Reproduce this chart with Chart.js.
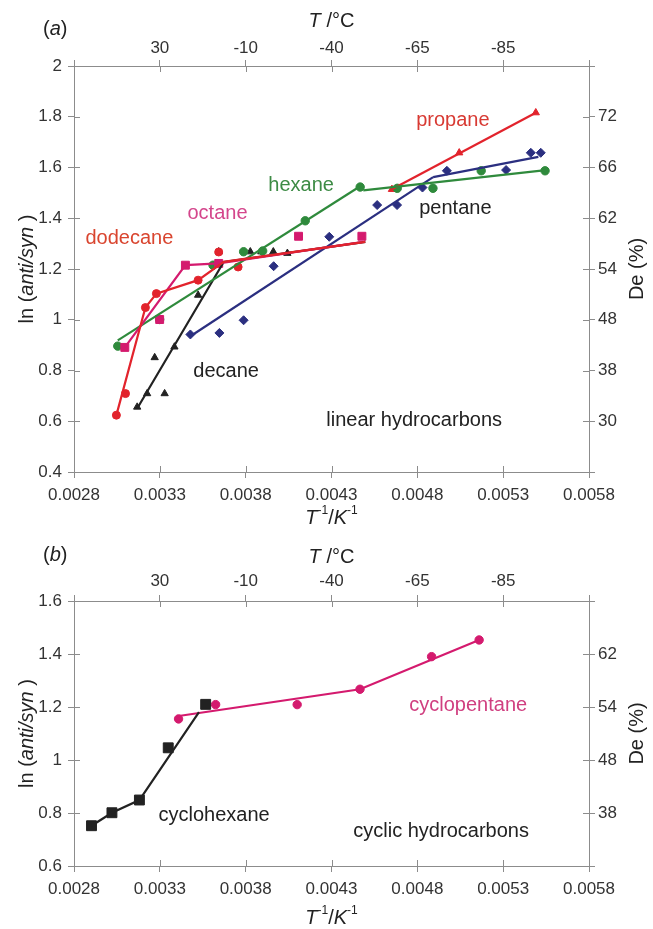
<!DOCTYPE html>
<html><head><meta charset="utf-8">
<script src="https://cdn.jsdelivr.net/npm/chart.js@4.4.0/dist/chart.umd.min.js"></script>
<style>
html,body{margin:0;padding:0;background:#fff;}
#wrap{position:relative;width:653px;height:929px;}
canvas{display:block;}
</style></head><body>
<div id="wrap">
<canvas id="ca" width="653" height="535"></canvas>
<canvas id="cb" width="653" height="394"></canvas>
</div>
<script>
// ---------- axis ticks ----------
const xTickVals = [0.0028, 0.0033, 0.0038, 0.0043, 0.0048, 0.0053, 0.0058];
const xTickLabels = ['0.0028', '0.0033', '0.0038', '0.0043', '0.0048', '0.0053', '0.0058'];
const topTickLabels = ['', '30', '-10', '-40', '-65', '-85', ''];
const yTickValsA = [0.4, 0.6, 0.8, 1.0, 1.2, 1.4, 1.6, 1.8, 2.0];
const yTickLabelsA = ['0.4', '0.6', '0.8', '1', '1.2', '1.4', '1.6', '1.8', '2'];
const deLabelsA = ['', '30', '38', '48', '54', '62', '66', '72', ''];
const yTickValsB = [0.6, 0.8, 1.0, 1.2, 1.4, 1.6];
const yTickLabelsB = ['0.6', '0.8', '1', '1.2', '1.4', '1.6'];
const deLabelsB = ['', '38', '48', '54', '62', ''];

// ---------- panel (a): linear hydrocarbons ----------
const propanePts = [[0.004652,1.514],[0.005044,1.658],[0.00549,1.816]];
const propaneFit = [[0.004652,1.514],[0.00549,1.816]];

const hexanePts = [[0.003055,0.896],[0.003299,1.001],[0.00361,1.215],[0.003788,1.268],[0.003899,1.271],[0.004147,1.390],[0.004467,1.523],[0.004683,1.518],[0.004891,1.518],[0.005172,1.587],[0.005544,1.587]];
const hexaneFit1 = [[0.003055,0.919],[0.004467,1.526]];
const hexaneFit2 = [[0.004485,1.51],[0.005548,1.59]];

const pentanePts = [[0.003478,0.942],[0.003647,0.948],[0.003788,0.998],[0.003963,1.211],[0.004287,1.327],[0.004566,1.452],[0.004682,1.452],[0.00483,1.521],[0.004972,1.587],[0.005317,1.590],[0.005461,1.658],[0.005519,1.658]];
const pentaneFit1 = [[0.003478,0.935],[0.004892,1.562]];
const pentaneFit2 = [[0.004892,1.562],[0.005505,1.642]];

const dodecanePts = [[0.003047,0.624],[0.0031,0.709],[0.003216,1.048],[0.00328,1.103],[0.003523,1.156],[0.003643,1.267],[0.003756,1.208]];
const dodecaneFit = [[0.003047,0.624],[0.003216,1.048],[0.00328,1.103],[0.003523,1.156],[0.003672,1.228],[0.004497,1.307]];

const octanePts = [[0.003096,0.891],[0.003299,1.001],[0.003449,1.215],[0.003643,1.222],[0.004108,1.329],[0.004477,1.329]];
const octaneFit = [[0.003096,0.891],[0.003449,1.215],[0.003643,1.222],[0.004477,1.306]];

const decanePts = [[0.003168,0.656],[0.003226,0.709],[0.00327,0.851],[0.003328,0.709],[0.003385,0.893],[0.003523,1.097],[0.003643,1.268],[0.003827,1.268],[0.003891,1.268],[0.003961,1.268],[0.004043,1.262]];
const decaneFit = [[0.003168,0.65],[0.003672,1.228],[0.004497,1.307]];

// ---------- panel (b): cyclic hydrocarbons ----------
const cyclohexanePts = [[0.002902,0.752],[0.003021,0.801],[0.003181,0.849],[0.003349,1.046],[0.003567,1.210]];
const cyclohexaneFit = [[0.002902,0.752],[0.003021,0.801],[0.003181,0.849],[0.003528,1.181]];
const cyclopentanePts = [[0.003409,1.155],[0.003625,1.209],[0.0041,1.209],[0.004466,1.267],[0.004883,1.390],[0.00516,1.453]];
const cyclopentaneFit = [[0.0034,1.165],[0.004466,1.267],[0.00516,1.453]];

// ---------- colours / fonts ----------
const RED = '#e2232c', MAG = '#d41a6e', GRN = '#2f8a3c', NAVY = '#2b2f80', BLK = '#222222';
const FONT = "'Liberation Sans', Arial, Helvetica, sans-serif";
const AXIS = '#8c8c8c', TXT = '#333333';

const toXY = a => a.map(p => ({x: p[0], y: p[1]}));
function lineDS(arr, color){
  return {data: toXY(arr), showLine: true, borderColor: color, borderWidth: 2.2, pointRadius: 0, fill: false};
}
function ptDS(arr, color, style, r){
  return {data: toXY(arr), showLine: false, pointStyle: style, pointRadius: r, backgroundColor: color, borderColor: color, borderWidth: 1};
}

function drawRich(ctx, segs, x, y, rot, size, color, align){
  ctx.save();
  ctx.translate(x, y); ctx.rotate(rot);
  ctx.fillStyle = color; ctx.textBaseline = 'middle'; ctx.textAlign = 'left';
  const fonts = segs.map(s => (s.it ? 'italic ' : '') + (s.sup ? Math.round(size*0.62) : size) + 'px ' + FONT);
  let w = 0;
  segs.forEach((s,i) => { ctx.font = fonts[i]; w += ctx.measureText(s.t).width; });
  let cx = align === 'left' ? 0 : -w/2;
  segs.forEach((s,i) => { ctx.font = fonts[i]; ctx.fillText(s.t, cx, s.sup ? -size*0.36 : 0); cx += ctx.measureText(s.t).width; });
  ctx.restore();
}

const decor = {
  id: 'decor',
  afterDraw(chart, args, o){
    const ctx = chart.ctx, ca = chart.chartArea;
    const sx = chart.scales.x, sy = chart.scales.y;
    ctx.save();
    ctx.strokeStyle = AXIS; ctx.lineWidth = 1;
    ctx.beginPath();
    xTickVals.forEach(v => {
      const p = Math.round(sx.getPixelForValue(v)) + 0.5;
      ctx.moveTo(p, ca.bottom); ctx.lineTo(p, ca.bottom - 6);
      ctx.moveTo(p, ca.top); ctx.lineTo(p, ca.top + 6);
    });
    o.yVals.forEach(v => {
      const p = Math.round(sy.getPixelForValue(v)) + 0.5;
      ctx.moveTo(ca.left, p); ctx.lineTo(ca.left + 6, p);
      ctx.moveTo(ca.right, p); ctx.lineTo(ca.right - 6, p);
    });
    ctx.stroke();
    ctx.restore();
    const midX = (ca.left + ca.right) / 2, midY = (ca.top + ca.bottom) / 2;
    drawRich(ctx, [{t:'('},{t:o.letter, it:true},{t:')'}], 43, o.letterY, 0, 20, '#222', 'left');
    drawRich(ctx, [{t:'T', it:true},{t:' /°C'}], midX, o.topTitleY, 0, 20, '#222');
    drawRich(ctx, [{t:'T', it:true},{t:'-1', sup:true},{t:'/'},{t:'K', it:true},{t:'-1', sup:true}], midX, o.botTitleY, 0, 20, '#222');
    drawRich(ctx, [{t:'ln ('},{t:'anti/syn', it:true},{t:' )'}], 27, midY, -Math.PI/2, 20, '#222');
    drawRich(ctx, [{t:'De (%)'}], 637, midY, -Math.PI/2, 20, '#222');
    o.labels.forEach(l => {
      const px = sx.getPixelForValue(l.x), py = sy.getPixelForValue(l.y);
      drawRich(ctx, [{t:l.text}], px, py, 0, 20, l.color, 'left');
    });
  }
};

function xScale(pos, labels, h, pad){
  return {
    type: 'linear', position: pos, min: 0.0028, max: 0.0058,
    afterBuildTicks: s => { s.ticks = xTickVals.map(v => ({value: v})); },
    afterFit: s => { s.height = h; },
    ticks: {callback: (v, i) => labels[i], font: {family: FONT, size: 17}, color: TXT, padding: pad, maxRotation: 0, autoSkip: false},
    grid: {drawOnChartArea: false, tickLength: 6, color: AXIS},
    border: {color: AXIS}
  };
}
function yScale(pos, vals, labels, min, max, w, pad){
  return {
    type: 'linear', position: pos, min: min, max: max,
    afterBuildTicks: s => { s.ticks = vals.map(v => ({value: v})); },
    afterFit: s => { s.width = w; },
    ticks: {callback: (v, i) => labels[i], font: {family: FONT, size: 17}, color: TXT, padding: pad, autoSkip: false},
    grid: {drawOnChartArea: false, tickLength: 6, color: AXIS},
    border: {color: AXIS}
  };
}

function makeChart(id, datasets, yVals, yLabels, deLabels, ymin, ymax, decorOpts, topPad, botPad){
  return new Chart(document.getElementById(id), {
    type: 'scatter',
    data: {datasets: datasets},
    options: {
      responsive: false, animation: false,
      layout: {padding: 0},
      plugins: {legend: {display: false}, tooltip: {enabled: false}, decor: decorOpts},
      scales: {
        x: xScale('bottom', xTickLabels, 63, botPad),
        x2: xScale('top', topTickLabels, 66, topPad),
        y: yScale('left', yVals, yLabels, ymin, ymax, 74, 6),
        y2: yScale('right', yVals, deLabels, ymin, ymax, 64, 3)
      }
    },
    plugins: [decor]
  });
}

makeChart('ca', [
  lineDS(dodecaneFit, RED),
  lineDS(octaneFit, MAG),
  lineDS(hexaneFit1, GRN), lineDS(hexaneFit2, GRN),
  lineDS(pentaneFit1, NAVY), lineDS(pentaneFit2, NAVY),
  lineDS(propaneFit, RED),
  lineDS(decaneFit, BLK),
  ptDS(dodecanePts, RED, 'circle', 4),
  ptDS(octanePts, MAG, 'rect', 5.6),
  ptDS(hexanePts, GRN, 'circle', 4.2),
  ptDS(pentanePts, NAVY, 'rectRot', 4.5),
  ptDS(propanePts, RED, 'triangle', 4.2),
  ptDS(decanePts, BLK, 'triangle', 4.2)
], yTickValsA, yTickLabelsA, deLabelsA, 0.4, 2.0, {
  letter: 'a', letterY: 29, topTitleY: 21, botTitleY: 518, yVals: yTickValsA,
  labels: [
    {text: 'propane', x: 0.004793, y: 1.787, color: '#d83a33'},
    {text: 'hexane', x: 0.003932, y: 1.531, color: '#3d8b45'},
    {text: 'octane', x: 0.003461, y: 1.420, color: '#d4468c'},
    {text: 'dodecane', x: 0.002867, y: 1.321, color: '#d9452f'},
    {text: 'pentane', x: 0.004811, y: 1.440, color: '#222'},
    {text: 'decane', x: 0.003495, y: 0.797, color: '#222'},
    {text: 'linear hydrocarbons', x: 0.00427, y: 0.604, color: '#222'}
  ]
}, 1, 7);

makeChart('cb', [
  lineDS(cyclohexaneFit, BLK),
  lineDS(cyclopentaneFit, MAG),
  ptDS(cyclohexanePts, BLK, 'rect', 7),
  ptDS(cyclopentanePts, MAG, 'circle', 4.2)
], yTickValsB, yTickLabelsB, deLabelsB, 0.6, 1.6, {
  letter: 'b', letterY: 20, topTitleY: 22, botTitleY: 383, yVals: yTickValsB,
  labels: [
    {text: 'cyclopentane', x: 0.004753, y: 1.204, color: '#d03f80'},
    {text: 'cyclohexane', x: 0.003292, y: 0.792, color: '#222'},
    {text: 'cyclic hydrocarbons', x: 0.004427, y: 0.732, color: '#222'}
  ]
}, 3, 7);
</script>
</body></html>
